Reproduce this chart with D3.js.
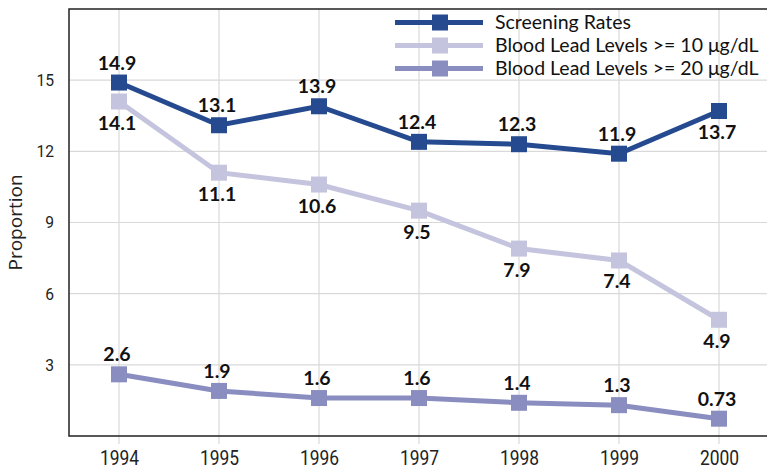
<!DOCTYPE html>
<html>
<head>
<meta charset="utf-8">
<script src="https://cdn.jsdelivr.net/npm/d3@7"></script>
<style>
  body { margin: 0; background: #fff; }
</style>
</head>
<body>
<div id="chart"></div>
<script>
const years = [1994, 1995, 1996, 1997, 1998, 1999, 2000];
const screening = [14.9, 13.1, 13.9, 12.4, 12.3, 11.9, 13.7];
const bll10 = [14.1, 11.1, 10.6, 9.5, 7.9, 7.4, 4.9];
const bll20 = [2.6, 1.9, 1.6, 1.6, 1.4, 1.3, 0.73];
const yTicks = [3, 6, 9, 12, 15];

const series = [
  {name: "Screening Rates", values: screening, color: "#254a8f", pos: ["up", "up", "up", "up", "up", "up", "down"]},
  {name: "Blood Lead Levels >= 10 \u03bcg/dL", values: bll10, color: "#c4c4de", pos: ["down", "down", "down", "down", "down", "down", "down"]},
  {name: "Blood Lead Levels >= 20 \u03bcg/dL", values: bll20, color: "#8a8dbf", pos: ["up", "up", "up", "up", "up", "up", "up"]}
];

const width = 767, height = 470;
const margin = {top: 9, right: -2, bottom: 34, left: 69};

const x = d3.scaleLinear()
  .domain([1993.5, 2000.5])
  .range([margin.left, width - margin.right]);
const y = d3.scaleLinear()
  .domain([0, 18])
  .range([height - margin.bottom, margin.top]);

const svg = d3.select("#chart").append("svg")
    .attr("width", width)
    .attr("height", height)
    .attr("font-family", "'Open Sans', sans-serif");

// grid
svg.append("g")
  .selectAll("line")
  .data(yTicks)
  .join("line")
    .attr("x1", margin.left).attr("x2", width)
    .attr("y1", d => y(d)).attr("y2", d => y(d))
    .attr("stroke", "#d9d9d9").attr("stroke-width", 1.2);
svg.append("g")
  .selectAll("line")
  .data(years)
  .join("line")
    .attr("x1", d => x(d)).attr("x2", d => x(d))
    .attr("y1", margin.top).attr("y2", height - margin.bottom + 8)
    .attr("stroke", "#d9d9d9").attr("stroke-width", 1.2);

// frame
svg.append("path")
    .attr("d", `M${width},${margin.top}H${margin.left}V${height - margin.bottom}H${width}`)
    .attr("fill", "none")
    .attr("stroke", "#222")
    .attr("stroke-width", 1.5);

// axes (narrow tick font: Roboto squeezed horizontally)
const yAxis = svg.append("g")
    .attr("transform", `translate(${margin.left},0)`)
    .call(d3.axisLeft(y).tickValues(yTicks).tickSize(0));
const xAxis = svg.append("g")
    .attr("transform", `translate(0,${height - margin.bottom})`)
    .call(d3.axisBottom(x).tickValues(years).tickFormat(d3.format("d")).tickSize(0).tickPadding(14));
[yAxis, xAxis].forEach(a => {
  a.select(".domain").remove();
  a.selectAll("text")
    .attr("font-family", "Roboto, sans-serif")
    .attr("fill", "#222");
});
xAxis.selectAll("text")
    .attr("font-size", 20.5)
    .attr("transform", "scale(0.85,1)");
yAxis.selectAll("text")
    .attr("font-size", 17)
    .attr("transform", "scale(0.92,1)")
    .attr("x", -15 / 0.92);

svg.append("text")
    .attr("transform", `translate(22,${(margin.top + height - margin.bottom) / 2}) rotate(-90)`)
    .attr("text-anchor", "middle")
    .attr("font-size", 19)
    .attr("fill", "#222")
    .text("Proportion");

const line = d3.line()
  .x((d, i) => x(years[i]))
  .y(d => y(d));

const ms = 16;
series.forEach(s => {
  svg.append("path")
      .attr("d", line(s.values))
      .attr("fill", "none")
      .attr("stroke", s.color)
      .attr("stroke-width", 5);
  svg.append("g")
    .selectAll("rect")
    .data(s.values)
    .join("rect")
      .attr("x", (d, i) => x(years[i]) - ms / 2)
      .attr("y", d => y(d) - ms / 2)
      .attr("width", ms).attr("height", ms)
      .attr("fill", s.color);
  svg.append("g")
    .selectAll("text")
    .data(s.values)
    .join("text")
      .attr("x", (d, i) => x(years[i]) - 2)
      .attr("y", (d, i) => y(d) + (s.pos[i] === "up" ? -13 : 28))
      .attr("text-anchor", "middle")
      .attr("font-family", "Lato, sans-serif")
      .attr("font-weight", "bold")
      .attr("font-size", 19.5)
      .attr("fill", "#111")
      .text(d => d);
});

// legend
const legend = svg.append("g")
  .selectAll("g")
  .data(series)
  .join("g")
    .attr("transform", (d, i) => `translate(395,${22.5 + i * 23})`);
legend.append("line")
    .attr("x1", 0).attr("x2", 88)
    .attr("stroke", d => d.color).attr("stroke-width", 5);
legend.append("rect")
    .attr("x", 45 - ms / 2).attr("y", -ms / 2)
    .attr("width", ms).attr("height", ms)
    .attr("fill", d => d.color);
legend.append("text")
    .attr("x", 100)
    .attr("dy", "0.35em")
    .attr("font-family", "Lato, sans-serif")
    .attr("font-size", 19.5)
    .attr("fill", "#111")
    .text(d => d.name);
</script>
</body>
</html>
